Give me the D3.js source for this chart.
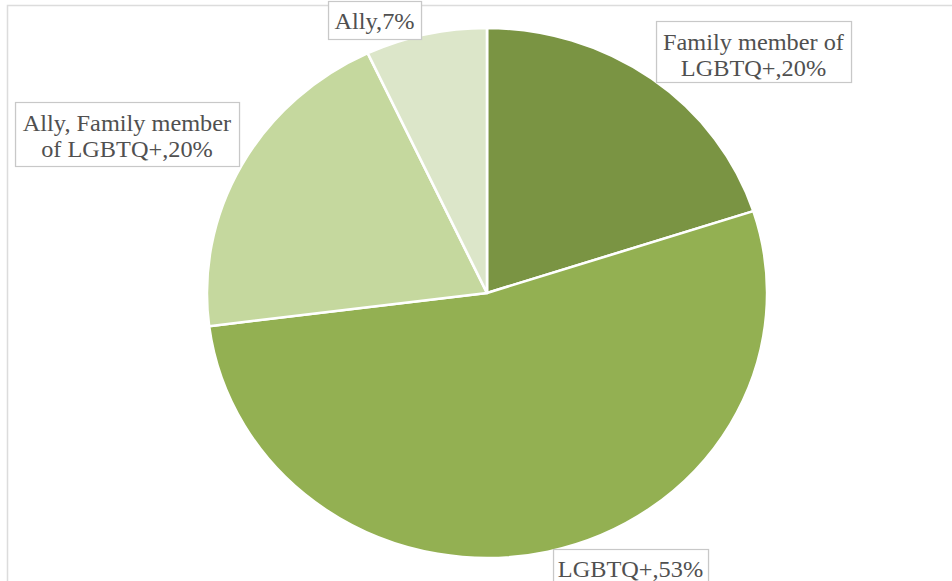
<!DOCTYPE html>
<html>
<head>
<meta charset="utf-8">
<script src="https://cdn.jsdelivr.net/npm/d3@7"></script>
<style>
  html, body { margin: 0; padding: 0; background: #fff; }
  svg { display: block; }
</style>
</head>
<body>
<svg id="chart" width="952" height="581"></svg>
<script>
// Respondent groups and their shares (percent)
const categories = ["Family member of LGBTQ+", "LGBTQ+", "Ally, Family member of LGBTQ+", "Ally"];
const values = [20, 53, 20, 7];
const colors = ["#7a9443", "#93b052", "#c5d89e", "#dce6c9"];
// Where each data label wraps onto a second line (character index, or null)
const labelBreaks = [16, null, 19, null];
// Label box placement (screen px): left, top, width, height
const labelBoxes = [
  [656, 21, 195, 61],
  [553, 549, 155, 40],
  [15, 102, 224, 64],
  [328, 1, 93, 38]
];

const W = 952, H = 581;
const sx = 1.057;              // horizontal stretch of the whole drawing
const cx = 487, cy = 293, R = 265;

const svg = d3.select("#chart");

// chart area frame
svg.append("rect")
  .attr("x", 7.5).attr("y", 5.5)
  .attr("width", W + 20).attr("height", H + 20)
  .attr("fill", "none").attr("stroke", "#dcdcdc").attr("stroke-width", 1.5);

const g = svg.append("g").attr("transform", `scale(${sx},1)`);

const pie = d3.pie().sort(null).value(d => d)(values);
const arc = d3.arc().innerRadius(0).outerRadius(R);

g.append("g")
  .attr("transform", `translate(${cx / sx},${cy})`)
  .selectAll("path")
  .data(pie)
  .join("path")
  .attr("d", arc)
  .attr("fill", (d, i) => colors[i])
  .attr("stroke", "#ffffff")
  .attr("stroke-width", 2.5)
  .attr("stroke-linejoin", "round");

// data labels
const lg = g.append("g");
categories.forEach((cat, i) => {
  const text = `${cat},${values[i]}%`;
  const b = labelBreaks[i];
  const lines = b == null ? [text] : [text.slice(0, b).trim(), text.slice(b).trim()];
  const [bx, by, bw, bh] = labelBoxes[i];
  lg.append("rect")
    .attr("x", bx / sx + 0.5).attr("y", by + 0.5)
    .attr("width", bw / sx).attr("height", bh)
    .attr("fill", "#ffffff")
    .attr("stroke", "#c8c8c8").attr("stroke-width", 1.2);
  const midX = (bx + bw / 2) / sx;
  const lineH = 26;
  const firstBase = by + (lines.length > 1 ? 29.5 : 28);
  lines.forEach((ln, j) => {
    lg.append("text")
      .attr("x", midX)
      .attr("y", firstBase + j * lineH)
      .attr("text-anchor", "middle")
      .attr("font-family", "'Liberation Serif', 'Times New Roman', serif")
      .attr("font-size", 23)
      .attr("fill", "#505050")
      .text(ln);
  });
});
</script>
</body>
</html>
